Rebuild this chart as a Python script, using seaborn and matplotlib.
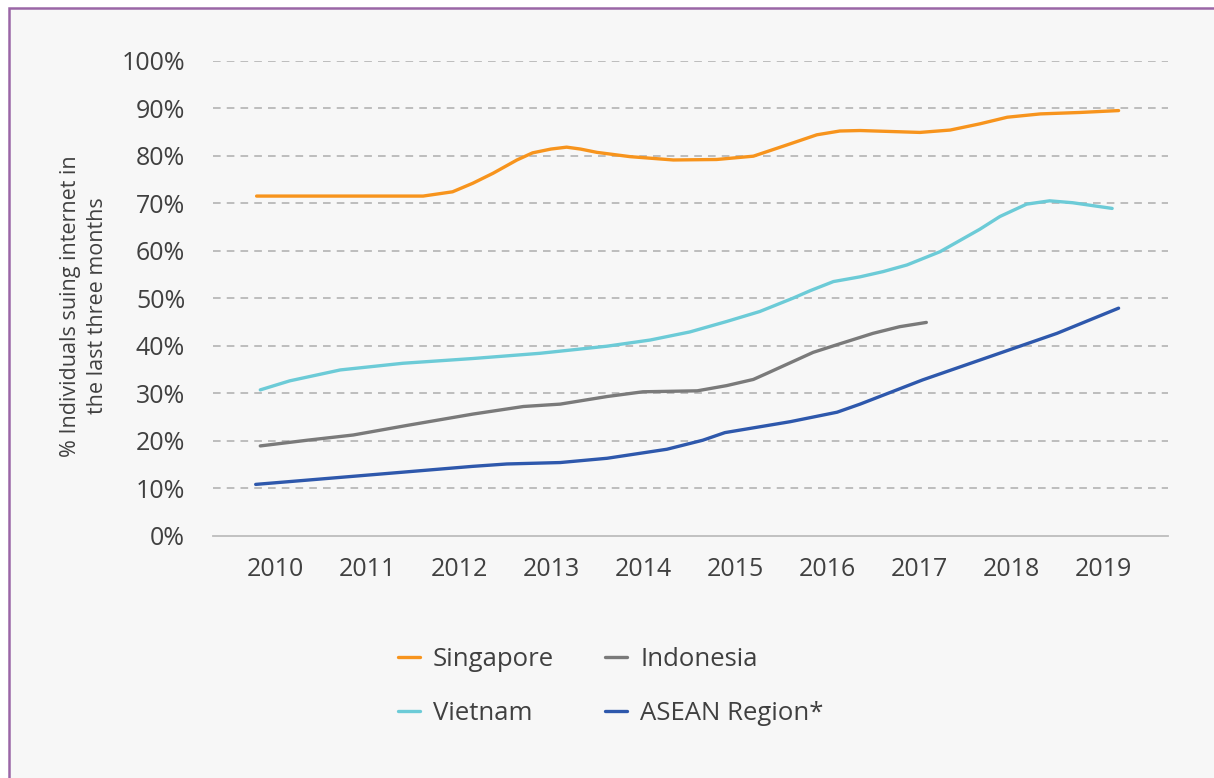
import matplotlib
matplotlib.use("Agg")
import matplotlib.pyplot as plt
import matplotlib.patches as mpatches
import pandas as pd
import seaborn as sns

# values (x = fractional year, y = % of individuals)
sg_x = [2009.80, 2010.71, 2011.61, 2011.93, 2012.15, 2012.37, 2012.63, 2012.80, 2013.00, 2013.17,
        2013.32, 2013.50, 2013.86, 2014.33, 2014.80, 2015.20, 2015.57, 2015.89, 2016.14,
        2016.36, 2017.01, 2017.34, 2017.66, 2017.96, 2018.32, 2018.75, 2019.17]
sg_y = [71.5, 71.5, 71.5, 72.4, 74.2, 76.3, 79.1, 80.6, 81.4, 81.8,
        81.4, 80.7, 79.8, 79.1, 79.2, 79.9, 82.3, 84.4, 85.2,
        85.3, 84.9, 85.4, 86.7, 88.1, 88.8, 89.1, 89.5]

vn_x = [2009.84, 2010.16, 2010.71, 2011.39, 2012.15, 2012.88, 2013.61, 2014.08, 2014.51,
        2014.91, 2015.27, 2015.63, 2015.82, 2016.07, 2016.36, 2016.61, 2016.87, 2017.23,
        2017.66, 2017.88, 2018.17, 2018.42, 2018.67, 2019.10]
vn_y = [30.7, 32.6, 34.9, 36.3, 37.3, 38.4, 39.9, 41.2, 42.9,
        45.1, 47.2, 50.0, 51.6, 53.5, 54.5, 55.6, 57.0, 59.8,
        64.5, 67.2, 69.8, 70.5, 70.1, 68.9]

id_x = [2009.84, 2010.35, 2010.85, 2011.43, 2012.15, 2012.70, 2013.10, 2013.61, 2014.00,
        2014.59, 2014.91, 2015.20, 2015.35, 2015.85, 2016.14, 2016.50, 2016.79, 2017.08]
id_y = [18.9, 20.1, 21.2, 23.2, 25.6, 27.2, 27.7, 29.3, 30.3,
        30.5, 31.6, 32.9, 34.2, 38.6, 40.4, 42.6, 44.0, 44.9]

as_x = [2009.79, 2010.35, 2011.22, 2012.15, 2012.52, 2013.10, 2013.61, 2014.26, 2014.65,
        2014.89, 2015.60, 2016.11, 2016.36, 2017.04, 2017.77, 2018.50, 2019.17]
as_y = [10.8, 11.7, 13.1, 14.6, 15.1, 15.4, 16.3, 18.2, 20.1,
        21.7, 24.0, 26.0, 27.7, 32.8, 37.7, 42.6, 47.9]

years = list(range(2010, 2020))
series = ["Singapore", "Vietnam", "Indonesia", "ASEAN Region*"]
colors = ["#F7941D", "#6CCBD7", "#7A7A7A", "#2E58AC"]

frames = []
for name, xs, ys in zip(series, [sg_x, vn_x, id_x, as_x], [sg_y, vn_y, id_y, as_y]):
    frames.append(pd.DataFrame({"year": xs, "pct": ys, "country": name}))
df = pd.concat(frames, ignore_index=True)

sns.set_style("white")
plt.rcParams["font.family"] = ["Open Sans", "DejaVu Sans"]
text_col = "#404040"

fig = plt.figure(figsize=(12.14, 7.78), dpi=100, facecolor="white")
# panel with purple frame (right and bottom edges run off the image)
fig.patches.append(mpatches.Rectangle((8.5 / 1214, -0.05), 1.2, 1.05 - 8.5 / 778,
                                      transform=fig.transFigure, facecolor="#F7F7F7",
                                      edgecolor="#9A66A6", linewidth=1.8, zorder=-10))

ax = fig.add_axes([213 / 1214, 1 - 535.7 / 778, (1168 - 213) / 1214, (535.7 - 60.7) / 778])
ax.set_facecolor("none")
ax.set_zorder(5)

sns.lineplot(data=df, x="year", y="pct", hue="country", hue_order=series,
             palette=colors, linewidth=2.4, sort=True, estimator=None, ax=ax,
             solid_joinstyle="round")

ax.set_xlim(2009.326, 2019.707)
ax.set_ylim(0, 100)
ax.set_yticks(range(0, 101, 10))
ax.set_yticklabels([f"{v}%" for v in range(0, 101, 10)])
ax.set_xticks(years)
ax.set_xticklabels([str(y) for y in years])
ax.tick_params(axis="both", length=0, labelsize=18, colors=text_col)
ax.tick_params(axis="y", pad=20)
ax.tick_params(axis="x", pad=15)

for v in range(10, 101, 10):
    ax.axhline(v, color="#ADADAD", linewidth=1.1, dashes=(5, 4), zorder=0)

for s in ["top", "right", "left"]:
    ax.spines[s].set_visible(False)
ax.spines["bottom"].set_color("#BDBDBD")
ax.spines["bottom"].set_linewidth(1.3)

ax.set_xlabel("")
ax.set_ylabel("% Individuals suing internet in\nthe last three months", fontsize=15.5,
              color=text_col, linespacing=1.35)
ax.yaxis.set_label_coords(-0.11, 0.484)

handles, labels = ax.get_legend_handles_labels()
ax.legend(handles, labels, ncol=2, loc="upper left", bbox_to_anchor=(162 / 955, -0.185),
          frameon=False, fontsize=18.5, handlelength=0.85, handletextpad=0.5,
          columnspacing=2.0, labelspacing=1.15, labelcolor=text_col)

fig.savefig("out.png", dpi=100, facecolor="white")
